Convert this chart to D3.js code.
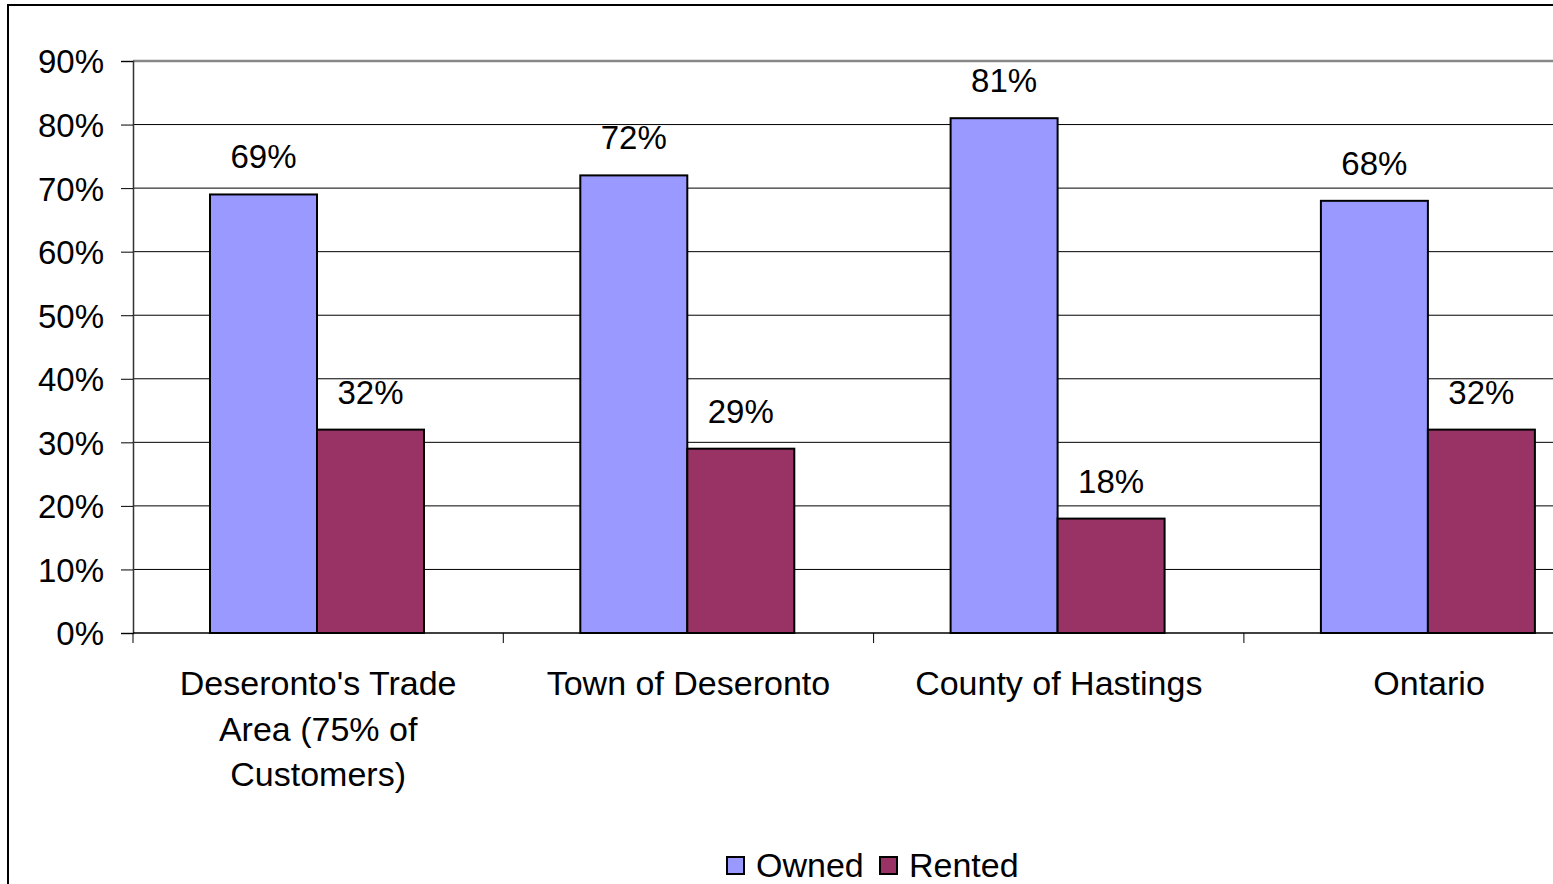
<!DOCTYPE html>
<html>
<head>
  <meta charset="utf-8">
  <script src="https://d3js.org/d3.v7.min.js"></script>
  <style>
    body { margin: 0; background: #fff; }
    text { font-family: "Liberation Sans", Arial, sans-serif; fill: #000; }
  </style>
</head>
<body>
  <svg width="1553" height="884"></svg>
  <script>
    var categories = ["Deseronto's Trade Area (75% of Customers)", "Town of Deseronto", "County of Hastings", "Ontario"];
    var catLines = [["Deseronto's Trade", "Area (75% of", "Customers)"], ["Town of Deseronto"], ["County of Hastings"], ["Ontario"]];
    var series = ["Owned", "Rented"];
    var owned = [69, 72, 81, 68];
    var rented = [32, 29, 18, 32];
    var yTicks = [0, 10, 20, 30, 40, 50, 60, 70, 80, 90];
    var colors = ["#9999ff", "#993366"];

    var svg = d3.select("svg");

    // outer frame (runs off the right/bottom like the original)
    svg.append("rect").attr("x", 8).attr("y", 5).attr("width", 1600).attr("height", 900)
      .attr("fill", "none").attr("stroke", "#000").attr("stroke-width", 2);

    var plotL = 133, plotT = 61, plotB = 633, catW = 370.3;
    var x = d3.scaleBand().domain(categories).range([plotL, plotL + catW * 4]);
    var xs = d3.scaleBand().domain(series).range([0, 214]);
    var y = d3.scaleLinear().domain([0, 90]).range([plotB, plotT]);

    // grid
    svg.append("g").selectAll("line").data(yTicks.slice(1)).join("line")
      .attr("x1", plotL).attr("x2", 1553)
      .attr("y1", function (d) { return y(d); }).attr("y2", function (d) { return y(d); })
      .attr("stroke", function (d) { return d === 90 ? "#888" : "#000"; })
      .attr("stroke-width", function (d) { return d === 90 ? 2.5 : 1; });

    // y axis
    var yAxis = d3.axisLeft(y).tickValues(yTicks).tickSize(12).tickPadding(17)
      .tickFormat(function (d) { return d + "%"; });
    var gy = svg.append("g").attr("transform", "translate(" + plotL + ",0)").call(yAxis);
    gy.select(".domain").attr("stroke", "#333").attr("stroke-width", 1.5);
    gy.selectAll(".tick line").attr("stroke", "#000");
    gy.selectAll("text").style("font-size", "33px").attr("dy", "0.36em")
      .style("font-family", "'Liberation Sans', Arial, sans-serif");

    // bars
    var data = categories.map(function (c, i) { return { cat: c, vals: [owned[i], rented[i]] }; });
    var groups = svg.append("g").selectAll("g").data(data).join("g")
      .attr("transform", function (d) { return "translate(" + (x(d.cat) + 77) + ",0)"; });
    groups.selectAll("rect").data(function (d) { return d.vals.map(function (v, j) { return { s: series[j], v: v, j: j }; }); })
      .join("rect")
      .attr("x", function (d) { return xs(d.s); })
      .attr("y", function (d) { return y(d.v); })
      .attr("width", xs.bandwidth())
      .attr("height", function (d) { return plotB - y(d.v); })
      .attr("fill", function (d) { return colors[d.j]; })
      .attr("stroke", "#000").attr("stroke-width", 2);
    groups.selectAll("text").data(function (d) { return d.vals.map(function (v, j) { return { s: series[j], v: v }; }); })
      .join("text")
      .attr("x", function (d) { return xs(d.s) + xs.bandwidth() / 2; })
      .attr("y", function (d) { return y(d.v) - 26; })
      .attr("text-anchor", "middle").style("font-size", "33px")
      .text(function (d) { return d.v + "%"; });

    // x axis
    var gx = svg.append("g");
    gx.append("line").attr("x1", plotL).attr("x2", 1553).attr("y1", plotB).attr("y2", plotB)
      .attr("stroke", "#000").attr("stroke-width", 1.5);
    gx.selectAll("line.t").data(categories).join("line").attr("class", "t")
      .attr("x1", function (d) { return x(d); }).attr("x2", function (d) { return x(d); })
      .attr("y1", plotB).attr("y2", plotB + 10).attr("stroke", "#000");
    gx.selectAll("text").data(categories).join("text")
      .attr("text-anchor", "middle").style("font-size", "34px")
      .attr("transform", function (d) { return "translate(" + (x(d) + x.bandwidth() / 2) + ",0)"; })
      .each(function (d, i) {
        var t = d3.select(this);
        catLines[i].forEach(function (l, k) {
          t.append("tspan").attr("x", 0).attr("y", 695 + k * 45.5).text(l);
        });
      });

    // legend
    var leg = svg.append("g");
    var legX = [727, 880];
    series.forEach(function (s, i) {
      leg.append("rect").attr("x", legX[i]).attr("y", 857).attr("width", 17).attr("height", 17)
        .attr("fill", colors[i]).attr("stroke", "#000").attr("stroke-width", 2);
      leg.append("text").attr("x", legX[i] + 29).attr("y", 877).style("font-size", "34px").text(s);
    });
  </script>
</body>
</html>
